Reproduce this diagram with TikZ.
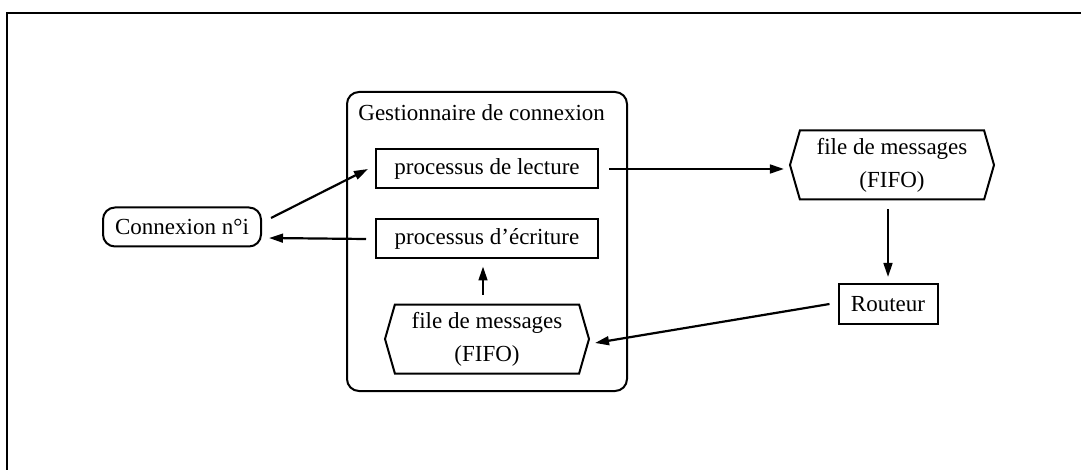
\documentclass[tikz,border=0pt]{standalone}
\usepackage{fontspec}
\setmainfont{Liberation Serif}
\usetikzlibrary{positioning, arrows.meta, shapes.symbols}

\begin{document}
\begin{tikzpicture}[
  x=0.5pt, y=-0.5pt,
  every node/.style={font=\fontsize{11.5}{16.5}\selectfont},
  proc/.style={draw, line width=1pt, minimum width=111pt, minimum height=19.5pt, inner sep=2pt},
  fifo/.style={draw, line width=1pt, signal, signal to=west and east, signal pointer angle=148,
    minimum width=102pt, minimum height=34.5pt, align=center, inner sep=2pt},
  arr/.style={-{Triangle[length=7pt, width=4.4pt]}, line width=1.1pt}
]
  \useasboundingbox (0,0) rectangle (1081,470);
  % cadre
  \draw[line width=1.3pt] (1081,13) -- (7,13) -- (7,470);

  % gestionnaire
  \node[draw, line width=1pt, rounded corners=6pt, minimum width=140pt, minimum height=149.5pt] (gest) at (487,241.5) {};
  \node[anchor=base west, inner sep=0pt] (titre) at (358,121) {Gestionnaire de connexion};
  \node[proc] (lect) at (487,169) {processus de lecture};
  \node[proc] (ecr)  at (487,239) {processus d’écriture};
  \node[fifo] (fifo2) at (487,339) {file de messages\\(FIFO)};

  \node[draw, line width=1pt, rounded corners=6pt, minimum width=79pt, minimum height=19.5pt] (con) at (182,227) {Connexion n°i};
  \node[fifo] (fifo1) at (892,165) {file de messages\\(FIFO)};
  \node[draw, line width=1pt, minimum width=49.5pt, minimum height=20pt] (rout) at (888,304) {Routeur};

  \draw[arr] ([shift={(4.5pt,4.5pt)}]con.east) -- ([xshift=-3.5pt]lect.west);
  \draw[arr] ([xshift=-4.5pt]ecr.west) -- ([shift={(3.5pt,-5.5pt)}]con.east);
  \draw[arr] ([xshift=5pt]lect.east) -- ([xshift=-2.5pt]fifo1.west |- lect.east);
  \draw[arr] ([shift={(-2pt,-4.5pt)}]fifo1.south) -- ([yshift=3pt]rout.north);
  \draw[arr] ([xshift=-4pt]rout.west) -- ([shift={(2.5pt,-2pt)}]fifo2.east);
  \draw[arr] ([shift={(-2pt,4.5pt)}]fifo2.north) -- ([shift={(-2pt,-3.5pt)}]ecr.south);
\end{tikzpicture}
\end{document}
